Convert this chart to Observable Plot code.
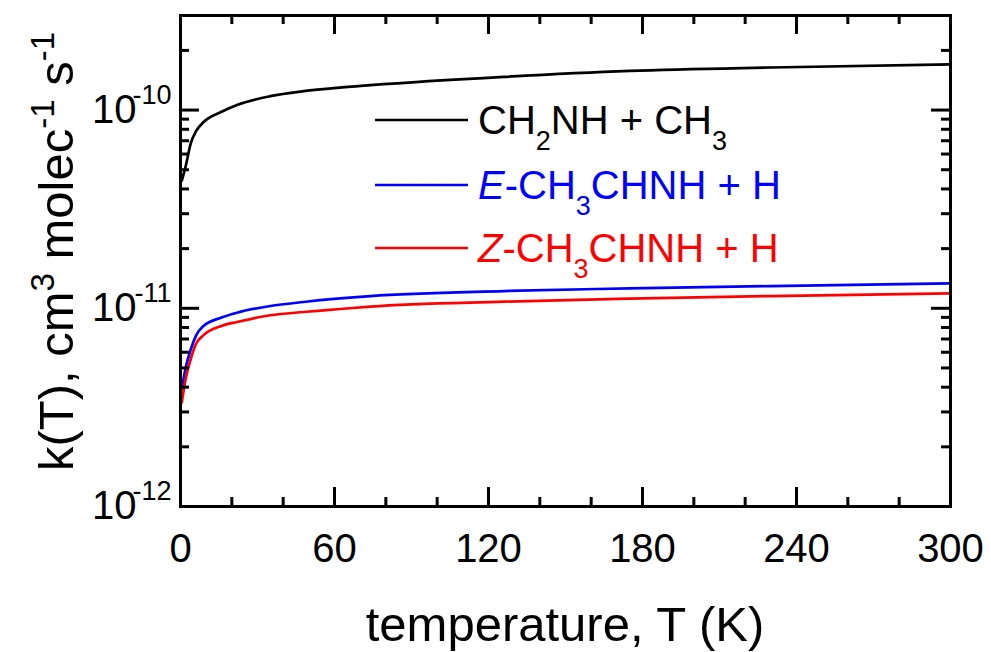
<!DOCTYPE html>
<html><head><meta charset="utf-8">
<script src="https://cdn.jsdelivr.net/npm/d3@7"></script>
<script src="https://cdn.jsdelivr.net/npm/@observablehq/plot@0.6"></script>
<style>
body{margin:0;background:#fff}
#chart svg{display:block}
</style>
</head><body><div id="chart"></div>
<script>
const temperatures = [0.5, 2, 4, 6, 9, 16, 22, 35, 48, 61, 74, 126, 175, 230, 300];
// k(T) in cm^3 molec^-1 s^-1
const kCH2NH_CH3 = [4.4e-11, 5.2e-11, 6.8e-11, 7.8e-11, 8.7e-11, 9.8e-11, 1.06e-10, 1.175e-10, 1.245e-10, 1.295e-10, 1.335e-10, 1.47e-10, 1.575e-10, 1.64e-10, 1.70e-10];
const kE_CH3CHNH_H = [3.9e-12, 5.0e-12, 6.2e-12, 7.26e-12, 8.15e-12, 8.98e-12, 9.5e-12, 1.027e-11, 1.076e-11, 1.118e-11, 1.153e-11, 1.222e-11, 1.26e-11, 1.294e-11, 1.335e-11];
const kZ_CH3CHNH_H = [3.35e-12, 4.4e-12, 5.54e-12, 6.6e-12, 7.32e-12, 8.15e-12, 8.53e-12, 9.22e-12, 9.58e-12, 9.89e-12, 1.02e-11, 1.08e-11, 1.12e-11, 1.153e-11, 1.19e-11];
const seriesNames = ["CH2NH + CH3", "E-CH3CHNH + H", "Z-CH3CHNH + H"];
const seriesColors = ["#000000", "#0000ff", "#ff0000"];
const xMajorTicks = [0, 60, 120, 180, 240, 300];
const xMinorTicks = [20, 40, 80, 100, 140, 160, 200, 220, 260, 280];
const yDecades = [1e-12, 1e-11, 1e-10];
const yDecadeExponents = ["-12", "-11", "-10"];
const yMinorTicks = [2e-12,3e-12,4e-12,5e-12,6e-12,7e-12,8e-12,9e-12,2e-11,3e-11,4e-11,5e-11,6e-11,7e-11,8e-11,9e-11,2e-10];
const xDomain = [0, 300];
const yDomain = [1e-12, 3e-10];
const xTitle = "temperature, T (K)";

const seriesValues = [kCH2NH_CH3, kE_CH3CHNH_H, kZ_CH3CHNH_H];
const rows = seriesNames.flatMap((name, i) => temperatures.map((t, j) => ({series: name, T: t, k: seriesValues[i][j]})));
const decadeRows = yDecades.map((d, i) => ({v: d, exp: yDecadeExponents[i]}));

const W = 991, H = 652;
const mL = 180, mR = 41, mT = 15, mB = 146;
const fw = W - mL - mR, fh = H - mT - mB;
const FONT = "'Liberation Sans', Arial, Helvetica, sans-serif";
const majorLen = 19, minorLen = 9;

const chart = Plot.plot({
  width: W, height: H,
  marginLeft: mL, marginRight: mR, marginTop: mT, marginBottom: mB,
  style: {fontFamily: FONT, color: "black", background: "white"},
  x: {domain: xDomain},
  y: {type: "log", domain: yDomain, axis: null},
  color: {domain: seriesNames, range: seriesColors},
  marks: [
    Plot.line(rows, {x: "T", y: "k", z: "series", stroke: "series", strokeWidth: 2.7, curve: "monotone-x"}),
    // x ticks (inward, bottom and top)
    Plot.ruleX(xMajorTicks, {x: d => d, insetTop: fh - majorLen, stroke: "black", strokeWidth: 3}),
    Plot.ruleX(xMajorTicks, {x: d => d, insetBottom: fh - majorLen, stroke: "black", strokeWidth: 3}),
    Plot.ruleX(xMinorTicks, {x: d => d, insetTop: fh - minorLen, stroke: "black", strokeWidth: 3}),
    Plot.ruleX(xMinorTicks, {x: d => d, insetBottom: fh - minorLen, stroke: "black", strokeWidth: 3}),
    // y ticks (inward, left and right)
    Plot.ruleY(yDecades, {y: d => d, insetRight: fw - majorLen, stroke: "black", strokeWidth: 3}),
    Plot.ruleY(yDecades, {y: d => d, insetLeft: fw - majorLen, stroke: "black", strokeWidth: 3}),
    Plot.ruleY(yMinorTicks, {y: d => d, insetRight: fw - minorLen, stroke: "black", strokeWidth: 3}),
    Plot.ruleY(yMinorTicks, {y: d => d, insetLeft: fw - minorLen, stroke: "black", strokeWidth: 3}),
    Plot.frame({stroke: "black", strokeWidth: 3}),
    Plot.axisX(xMajorTicks, {tickSize: 0, tickPadding: 27, fontSize: 40, label: null, fill: "black"}),
    // y tick labels: 10^exp
    Plot.text(decadeRows, {y: "v", text: () => "10", frameAnchor: "left", textAnchor: "end", dx: -44, fontSize: 40, fill: "black"}),
    Plot.text(decadeRows, {y: "v", text: "exp", frameAnchor: "left", textAnchor: "end", dx: -9, dy: -15, fontSize: 27, fill: "black"})
  ]
});

const svg = d3.select(chart);
// x title
svg.append("text")
  .attr("x", mL + fw / 2).attr("y", 641)
  .attr("text-anchor", "middle")
  .attr("font-family", FONT).attr("font-size", 49).attr("fill", "black")
  .text(xTitle);

// y title with superscripts
const yt = svg.append("text")
  .attr("transform", `translate(73, ${mT + fh / 2 - 9}) rotate(-90)`)
  .attr("text-anchor", "middle")
  .attr("font-family", FONT).attr("font-size", 49).attr("fill", "black");
const ytParts = [["k(T), cm", 0], ["3", 1], [" molec", 0], ["-1", 1], [" s", 0], ["-1", 1]];
let prevSup = 0;
ytParts.forEach(([t, sup]) => {
  const dy = sup && !prevSup ? -19 : (!sup && prevSup ? 19 : 0);
  yt.append("tspan").attr("dy", dy).attr("font-size", sup ? 33 : 49).text(t);
  prevSup = sup;
});

// legend
const legendParts = [
  [["CH", 0, 0], ["2", 1, 0], ["NH + CH", 0, 0], ["3", 1, 0]],
  [["E", 0, 1], ["-CH", 0, 0], ["3", 1, 0], ["CHNH + H", 0, 0]],
  [["Z", 0, 1], ["-CH", 0, 0], ["3", 1, 0], ["CHNH + H", 0, 0]]
];
const legendY = [120, 185, 248];
const lg = svg.append("g").attr("text-anchor", "start");
seriesNames.forEach((name, i) => {
  const y = legendY[i];
  lg.append("line").attr("x1", 375).attr("x2", 468).attr("y1", y).attr("y2", y)
    .attr("stroke", seriesColors[i]).attr("stroke-width", 2.6);
  const t = lg.append("text").attr("x", 478).attr("y", y + 14)
    .attr("text-anchor", "start")
    .attr("font-family", FONT).attr("font-size", 40).attr("fill", seriesColors[i]);
  let prev = 0;
  legendParts[i].forEach(([s, sub, it]) => {
    const dy = sub && !prev ? 16 : (!sub && prev ? -16 : 0);
    const ts = t.append("tspan").attr("dy", dy).attr("font-size", sub ? 27 : 40).text(s);
    if (it) ts.attr("font-style", "italic");
    prev = sub;
  });
});

document.getElementById("chart").append(chart);
</script>
</body></html>
